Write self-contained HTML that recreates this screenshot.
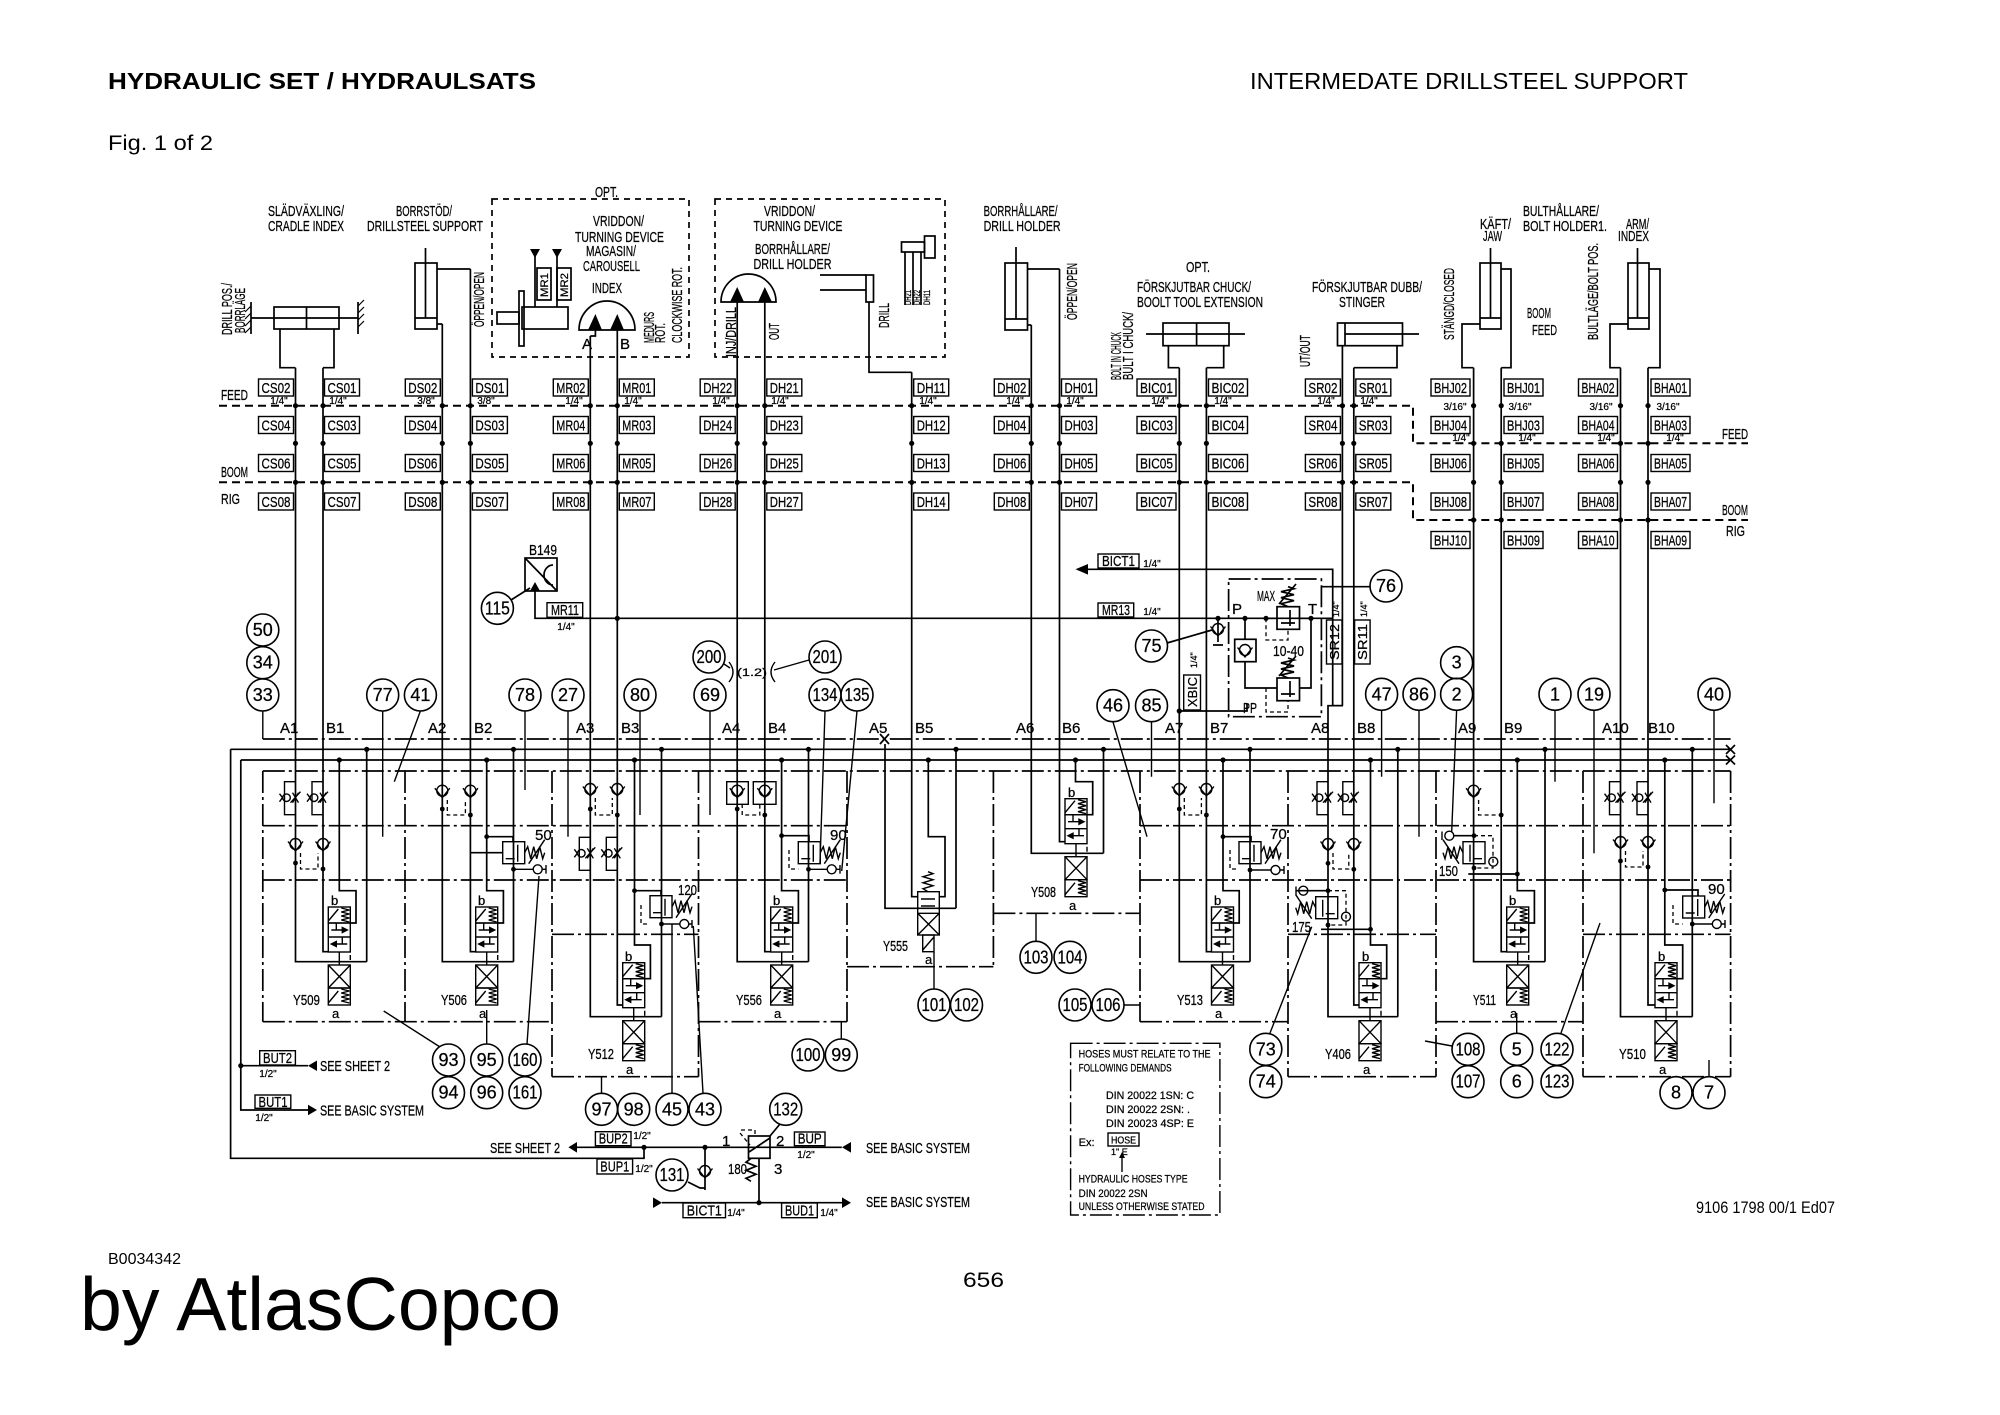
<!DOCTYPE html>
<html><head><meta charset="utf-8"><style>
html,body{margin:0;padding:0;background:#fff}
svg{display:block}
text{font-family:"Liberation Sans",sans-serif;fill:#000;stroke:none}
.n{font-size:15px;stroke:#000;stroke-width:0.3}
.c{font-size:18px;text-anchor:middle;stroke:#000;stroke-width:0.3}
.m{font-size:15px;text-anchor:middle;stroke:#000;stroke-width:0.3}
.sm{font-size:10px;text-anchor:middle;stroke:#000;stroke-width:0.2}
.d text{stroke:#000;stroke-width:0.25}
</style></head><body>
<svg width="2000" height="1415" viewBox="0 0 2000 1415" xmlns="http://www.w3.org/2000/svg">
<defs>
<g id="sp" fill="none" stroke="#000" stroke-width="1.4">
<rect x="0" y="7" width="22" height="16"/>
<path d="M0 21L10 9M13 8l8 2-8 2 8 2-8 2 8 2-8 2 8 2"/>
<rect x="0" y="23" width="22" height="29"/>
<path d="M0 37H22M3 30H17M5 44H19M11 52V65M22 55V60M8 23v7M14 37v7"/>
<path d="M19 30l-5-2.5v5zM3 44l5-2.5v5z" fill="#000"/>
<rect x="0" y="65" width="22" height="23"/>
<path d="M0 65L22 88M22 65L0 88"/>
<rect x="0" y="88" width="22" height="17"/>
<path d="M0 103L10 91M13 89l8 2-8 2 8 2-8 2 8 2-8 2 8 2"/>
</g>
<g id="ck" fill="none" stroke="#000" stroke-width="1.4"><circle cx="0" cy="-1" r="5.5"/><path d="M-7.5-3.5L0 6 7.5-3.5"/></g>
<g id="tc" fill="none" stroke="#000" stroke-width="1.4"><path d="M0-16H-11V17H0"/><circle cx="-9" cy="0" r="3.8"/><path d="M-13 0l-3-4M-13 0l-3 4M-3-5l6 10M3-5l-6 10M-5 5L5-6"/></g>
<g id="rv" fill="none" stroke="#000" stroke-width="1.4"><rect x="0" y="0" width="22" height="22"/><path d="M15 3V20M3 17H12M22 11l3-6 3 12 3-12 3 12 3-12 3 12 2-6M26 22L42-2"/></g>
</defs>
<rect width="2000" height="1415" fill="#fff"/>

<!-- header -->
<text x="108" y="89" style="font-size:23px;font-weight:bold" textLength="428" lengthAdjust="spacingAndGlyphs">HYDRAULIC SET / HYDRAULSATS</text>
<text x="1250" y="89" style="font-size:23px" textLength="438" lengthAdjust="spacingAndGlyphs">INTERMEDATE DRILLSTEEL SUPPORT</text>
<text x="108" y="150" style="font-size:21px" textLength="105" lengthAdjust="spacingAndGlyphs">Fig. 1 of 2</text>
<text x="108" y="1264" style="font-size:16px" textLength="73" lengthAdjust="spacingAndGlyphs">B0034342</text>
<text x="80" y="1330" style="font-size:75px" textLength="481" lengthAdjust="spacingAndGlyphs">by AtlasCopco</text>
<text x="963" y="1287" style="font-size:21px" textLength="41" lengthAdjust="spacingAndGlyphs">656</text>
<text x="1696" y="1213" style="font-size:17px" textLength="139" lengthAdjust="spacingAndGlyphs">9106 1798 00/1 Ed07</text>

<g fill="none" stroke="#000" stroke-width="1.7">
<!-- dashed opt boxes -->
<rect x="492" y="199" width="197" height="158" stroke-dasharray="6 5"/>
<rect x="715" y="199" width="230" height="158" stroke-dasharray="6 5"/>
<!-- cradle -->
<rect x="274" y="307" width="65" height="22"/>
<path d="M306.5 307V329M251 318H358M251 302V334M358 302V334M280 329V367.7H295.5M334 329V367.7H323"/>
<path d="M251 306l-6 6M251 313l-6 6M251 320l-6 6M251 327l-6 6M358 306l6-6M358 313l6-6M358 320l6-6M358 327l6-6" stroke-width="1.2"/>
<!-- drillsteel support -->
<rect x="415" y="263" width="22" height="66"/>
<path d="M425.5 248V318M415 318H437M437 269H470.4M437 324H442.3"/>
<!-- motor -->
<rect x="522" y="307" width="46" height="22"/><rect x="519" y="291" width="5" height="55"/><rect x="497" y="312" width="22" height="12"/>
<rect x="537" y="268" width="14" height="32"/><rect x="557" y="268" width="14" height="32"/>
<path d="M535 255V307M557 255V307"/>
<!-- index -->
<path d="M579 330A28 29 0 0 1 635 330Z"/>
<path d="M595.4 330V336H590.3"/>
<!-- turning device -->
<path d="M721 302A27.5 28 0 0 1 776 302Z"/>
<path d="M820 275H866M820 290H866"/><rect x="866" y="275" width="7.5" height="27"/>
<path d="M869 302V372.3H911.7"/>
<rect x="901.5" y="242" width="23" height="10"/><rect x="924.5" y="236" width="10.5" height="22"/>
<path d="M905 252V305M913 252V305M921 252V305"/>
<!-- drill holder -->
<rect x="1005" y="263" width="22.5" height="67"/>
<path d="M1016 247V319M1005 319H1027.5M1027.5 269H1059.5M1027.5 325H1031.3"/>
<!-- BIC -->
<rect x="1163" y="323" width="66" height="22.7"/>
<path d="M1196.6 323V345.7M1146 334H1245M1168.4 345.7V367.7H1179.3M1223.7 345.7V367.7H1206.4"/>
<!-- stinger -->
<rect x="1337.5" y="323" width="65" height="22.7"/>
<path d="M1345 323V345.7M1345 334H1419M1397 345.7V367.7H1353.8"/>
<!-- BHJ BHA -->
<rect x="1480" y="263" width="21" height="66"/>
<path d="M1490.5 248V318M1480 318H1501M1501 269H1511V367.7H1501.2M1480 324H1462V367.7H1473.6"/>
<rect x="1628" y="263" width="21" height="66"/>
<path d="M1637.5 248V318M1628 318H1649M1649 269H1660V367.7H1648M1628 324H1610V367.7H1620.5"/>

<!-- FEED/BOOM dashed -->
<path d="M219 405.7H1413V443.3H1748M219 482.3H1413V520H1748" stroke-width="2" stroke-dasharray="8 5"/>

<!-- pipes -->
<path d="M295.5 367.7V961.7H366.7M323 367.7V951.7H328.3M442.3 324V961.7H513.5M470.4 269V951.7H475.7M590.3 336V1016.7H661.5M617.3 330V1005H622.7M737.2 302V961.7H808.5M764.8 302V951.7H770.7M911.7 372.3V896.7H917.7M885 744V908.3H956M1031.3 325V853.3H1103.5M1059.5 269V841.7H1065M1179.3 367.7V961.7H1250M1206.4 367.7V951.7H1211.5M1342.4 345.7V705.7M1343 705.7H1328V1016.7H1397.8M1353.8 367.7V1005H1359M1473.6 367.7V961.7H1545M1501.2 367.7V951.7H1506.7M1620.5 367.7V1016.7H1692.3M1648 367.7V1005H1655"/>
<!-- T lines -->
<path d="M366.7 749.3V961.7M513.5 749.3V961.7M661.5 749.3V1016.7M808.5 749.3V961.7M956 749.3V908.3M1103.5 749.3V853.3M1250 749.3V961.7M1397.8 749.3V1016.7M1545 749.3V961.7M1692.3 749.3V1016.7"/>
<!-- P lines -->
<path d="M339.3 760V890.7H356V923H350.3M486.7 760V890.7H503.4V923H497.7M634.5 760V945H650.4V978.7H644.7M781.6 760V890.7H798.4V923H792.7M1075.5 760V781.7H1092.7V814.7H1087M1223 760V890.7H1239.2V923H1233.5M1370.5 760V945H1386.7V978.7H1381M1517.3 760V890.7H1534.4V923H1528.7M1664.8 760V945H1682.7V978.7H1677M928.3 760V836.7H945V896.7H939.3"/>

<!-- row boxes -->
<g stroke-width="1.4">
<rect x="258.5" y="379" width="35" height="17"/><rect x="324.5" y="379" width="35" height="17"/>
<rect x="258.5" y="416.5" width="35" height="17"/><rect x="324.5" y="416.5" width="35" height="17"/>
<rect x="258.5" y="454.5" width="35" height="17"/><rect x="324.5" y="454.5" width="35" height="17"/>
<rect x="258.5" y="493" width="35" height="17"/><rect x="324.5" y="493" width="35" height="17"/>
<rect x="405.3" y="379" width="35" height="17"/><rect x="472.4" y="379" width="35" height="17"/>
<rect x="405.3" y="416.5" width="35" height="17"/><rect x="472.4" y="416.5" width="35" height="17"/>
<rect x="405.3" y="454.5" width="35" height="17"/><rect x="472.4" y="454.5" width="35" height="17"/>
<rect x="405.3" y="493" width="35" height="17"/><rect x="472.4" y="493" width="35" height="17"/>
<rect x="553.3" y="379" width="35" height="17"/><rect x="619.3" y="379" width="35" height="17"/>
<rect x="553.3" y="416.5" width="35" height="17"/><rect x="619.3" y="416.5" width="35" height="17"/>
<rect x="553.3" y="454.5" width="35" height="17"/><rect x="619.3" y="454.5" width="35" height="17"/>
<rect x="553.3" y="493" width="35" height="17"/><rect x="619.3" y="493" width="35" height="17"/>
<rect x="700.2" y="379" width="35" height="17"/><rect x="766.8" y="379" width="35" height="17"/>
<rect x="700.2" y="416.5" width="35" height="17"/><rect x="766.8" y="416.5" width="35" height="17"/>
<rect x="700.2" y="454.5" width="35" height="17"/><rect x="766.8" y="454.5" width="35" height="17"/>
<rect x="700.2" y="493" width="35" height="17"/><rect x="766.8" y="493" width="35" height="17"/>
<rect x="913.7" y="379" width="35" height="17"/><rect x="913.7" y="416.5" width="35" height="17"/>
<rect x="913.7" y="454.5" width="35" height="17"/><rect x="913.7" y="493" width="35" height="17"/>
<rect x="994.3" y="379" width="35" height="17"/><rect x="1061.5" y="379" width="35" height="17"/>
<rect x="994.3" y="416.5" width="35" height="17"/><rect x="1061.5" y="416.5" width="35" height="17"/>
<rect x="994.3" y="454.5" width="35" height="17"/><rect x="1061.5" y="454.5" width="35" height="17"/>
<rect x="994.3" y="493" width="35" height="17"/><rect x="1061.5" y="493" width="35" height="17"/>
<rect x="1137" y="379" width="39" height="17"/><rect x="1208.5" y="379" width="39" height="17"/>
<rect x="1137" y="416.5" width="39" height="17"/><rect x="1208.5" y="416.5" width="39" height="17"/>
<rect x="1137" y="454.5" width="39" height="17"/><rect x="1208.5" y="454.5" width="39" height="17"/>
<rect x="1137" y="493" width="39" height="17"/><rect x="1208.5" y="493" width="39" height="17"/>
<rect x="1305.4" y="379" width="35" height="17"/><rect x="1355.8" y="379" width="35" height="17"/>
<rect x="1305.4" y="416.5" width="35" height="17"/><rect x="1355.8" y="416.5" width="35" height="17"/>
<rect x="1305.4" y="454.5" width="35" height="17"/><rect x="1355.8" y="454.5" width="35" height="17"/>
<rect x="1305.4" y="493" width="35" height="17"/><rect x="1355.8" y="493" width="35" height="17"/>
<rect x="1431" y="379" width="39" height="17"/><rect x="1504" y="379" width="39" height="17"/>
<rect x="1431" y="416.5" width="39" height="17"/><rect x="1504" y="416.5" width="39" height="17"/>
<rect x="1431" y="454.5" width="39" height="17"/><rect x="1504" y="454.5" width="39" height="17"/>
<rect x="1431" y="493" width="39" height="17"/><rect x="1504" y="493" width="39" height="17"/>
<rect x="1431" y="531.5" width="39" height="17"/><rect x="1504" y="531.5" width="39" height="17"/>
<rect x="1578.5" y="379" width="39" height="17"/><rect x="1651" y="379" width="39" height="17"/>
<rect x="1578.5" y="416.5" width="39" height="17"/><rect x="1651" y="416.5" width="39" height="17"/>
<rect x="1578.5" y="454.5" width="39" height="17"/><rect x="1651" y="454.5" width="39" height="17"/>
<rect x="1578.5" y="493" width="39" height="17"/><rect x="1651" y="493" width="39" height="17"/>
<rect x="1578.5" y="531.5" width="39" height="17"/><rect x="1651" y="531.5" width="39" height="17"/>
</g>

<!-- middle -->
<rect x="525" y="558" width="32" height="33"/>
<path d="M525 558L557 591M553 565A9 10 0 0 0 553 585M535 591V618.3H1332.7M511 600L530 588"/>
<rect x="547" y="602.7" width="35.7" height="14.6" stroke-width="1.4"/>
<rect x="1098" y="603" width="35.7" height="14" stroke-width="1.4"/>
<rect x="1098" y="554" width="41" height="14" stroke-width="1.4"/>
<path d="M1088 569.3H1332.7V705.7H1343"/>
<!-- pressure valve -->
<rect x="1228.6" y="579" width="92.8" height="137.7" stroke-dasharray="22 4 3 4"/>
<path d="M1218 618.3V642M1213 645H1223M1167 643L1212 630"/>
<rect x="1234.7" y="639.3" width="21.3" height="22.4"/>
<path d="M1245 618.3V639.3M1245 661.7V688H1277"/>
<rect x="1277" y="606.7" width="22.5" height="22.6"/>
<path d="M1266 618.3H1277M1299.5 618.3H1311V688H1299.5M1281 623H1295M1290 610V626M1288 606.7l-7-3 13-3-13-3 13-3-13-3 13-3-6-2M1279 604L1296 584"/>
<rect x="1277" y="678" width="22.5" height="22.7"/>
<path d="M1281 694H1295M1290 681V697M1288 678l-7-3 13-3-13-3 13-3-13-3 13-3-6-2M1279 676L1296 656"/>
<path d="M1266 618.3V640H1288V629.3M1266 688V712H1288V700.7" stroke-dasharray="4 3" stroke-width="1.3"/>
<path d="M1321.4 586.7H1370M1179.3 711H1247V704"/>
<rect x="1183.7" y="675" width="16.8" height="35" stroke-width="1.4"/>
<rect x="1326.5" y="620" width="15.5" height="44" stroke-width="1.4"/>
<rect x="1354.6" y="620" width="15.5" height="44" stroke-width="1.4"/>
<!-- brackets -->
<path d="M729 662Q737 672 729 682M775 662Q767 672 775 682M724 664L730 668M809 660L774 670" stroke-width="1.4"/>

<!-- bus -->
<path d="M262.8 739H1730.6" stroke-dasharray="22 4 3 4"/>
<path d="M230.6 749.3H1730.6M240.8 760H1730.6M230.6 749.3V1158.3H644V1147.3M240.8 760V1110H308M240.8 1065.7H308"/>
<path d="M880 734L889 744M889 734L880 744M1726 745l9 9M1735 745l-9 9M1726 755.5l9 9M1735 755.5l-9 9"/>
<g stroke-dasharray="22 4 3 4">
<path d="M262.8 771H1730.6M262.8 825.7H847M1140 825.7H1730.6M262.8 880H847M1140 880H1730.6M552 934.3H698.5M1288 934.3H1436M1583 934.3H1730.6"/>
<path d="M262.8 771V1021.7M405 771V1021.7M552 771V1076.7M698.5 771V1076.7M847 771V1021.7M993.4 771V966.7M1140 771V1021.7M1288 771V1076.7M1436 771V1076.7M1583 771V1076.7M1730.6 771V1076.7"/>
<path d="M262.8 1021.7H552M698.5 1021.7H847M1140 1021.7H1288M1436 1021.7H1583M552 1076.7H698.5M1288 1076.7H1436M1583 1076.7H1730.6M847 966.7H993.4M993.4 913.3H1140"/>
</g>

<!-- spools -->
<use href="#sp" x="328.3" y="900"/><use href="#sp" x="475.7" y="900"/><use href="#sp" x="622.7" y="955.7"/>
<use href="#sp" x="770.7" y="900"/><use href="#sp" x="1065" y="791.7"/><use href="#sp" x="1211.5" y="900"/>
<use href="#sp" x="1359" y="955.7"/><use href="#sp" x="1506.7" y="900"/><use href="#sp" x="1655" y="955.7"/>
<!-- Y555 -->
<g stroke-width="1.4">
<rect x="917.7" y="891.7" width="21.6" height="43.3"/>
<path d="M917.7 913.3H939.3M921 899H935M935 906H921M917.7 913.3L939.3 935M939.3 913.3L917.7 935M928 891.7l-5-3 10-3-10-3 10-3-10-3 10-3-5-2"/>
<rect x="922.7" y="935" width="11.3" height="16.7"/>
<path d="M922.7 950L934 937M934 952V988.7"/>
</g>

<!-- throttle checks -->
<use href="#tc" x="295.5" y="797.7"/><use href="#tc" x="323" y="797.7"/>
<use href="#tc" x="590.3" y="853.3"/><use href="#tc" x="617.3" y="853.3"/>
<use href="#tc" x="1328" y="797.7"/><use href="#tc" x="1353.8" y="797.7"/>
<use href="#tc" x="1620.5" y="797.7"/><use href="#tc" x="1648" y="797.7"/>
<!-- checks -->
<use href="#ck" x="295.5" y="845"/><use href="#ck" x="323" y="845"/>
<use href="#ck" x="442.3" y="791.7"/><use href="#ck" x="470.4" y="791.7"/>
<use href="#ck" x="590.3" y="790"/><use href="#ck" x="617.3" y="790"/>
<use href="#ck" x="737.2" y="791.7"/><use href="#ck" x="764.8" y="791.7"/>
<use href="#ck" x="1179.3" y="790"/><use href="#ck" x="1206.4" y="790"/>
<use href="#ck" x="1328" y="845"/><use href="#ck" x="1353.8" y="845"/>
<use href="#ck" x="1473.6" y="791.7"/>
<use href="#ck" x="1620.5" y="843"/><use href="#ck" x="1648" y="843"/>
<use href="#ck" x="1218" y="630"/><use href="#ck" x="1245" y="651"/>
<rect x="726.7" y="781.7" width="21.6" height="22.6" stroke-width="1.4"/><rect x="753.3" y="781.7" width="22.7" height="22.6" stroke-width="1.4"/>
<g stroke-dasharray="4 3" stroke-width="1.3">
<path d="M300.5 853V869H318V853M447.3 800V815H465.4V800M595.3 798V815H612.3V798M742.2 804V815H759.8V804M1184.3 798V815H1201.4V798M1333 853V869H1348.8V853M1478.6 800V815H1501.2M1625.5 851V867H1643V851"/>
<path d="M1328 890.7H1346V925H1328M1474 835.7H1493V868H1474M641 905V924H650M789 850V869H798.3M1230 850V869H1239M1673 905V924H1682.7"/>
</g>
<!-- relief valves -->
<use href="#rv" x="502.7" y="841.7"/><use href="#rv" x="650" y="895.7"/><use href="#rv" x="798.3" y="841.7"/>
<use href="#rv" x="1239" y="841.7"/><use href="#rv" x="1682.7" y="896"/>
<use href="#rv" transform="translate(1337.7 896.7) scale(-1 1)"/>
<use href="#rv" transform="translate(1485 841.7) scale(-1 1)"/>
<path d="M486.7 836.7H513V841.7M470.4 852.7H502.7M634.5 890.7H661V895.7M781.6 835.7H809V841.7M1223 836.7H1251V841.7M1664.8 890H1698V896M1321 929.3H1370.5M1468.3 874H1517.3M1327 890.7H1296M1474 835.7H1454"/>
<g stroke-width="1.4">
<circle cx="537.7" cy="869.3" r="4.5"/><path d="M513.5 869.3H533.2M542.2 869.3H546M546 865V873.6"/>
<circle cx="684.3" cy="924" r="4.5"/><path d="M661.5 924H679.8M688.8 924H692M692 920V928"/>
<circle cx="831.7" cy="869.3" r="4.5"/><path d="M808.5 869.3H827.2M836.2 869.3H840M840 865V873.6"/>
<circle cx="1275.5" cy="870" r="4.5"/><path d="M1250 870H1271M1280 870H1284M1284 866V874"/>
<circle cx="1716.8" cy="924" r="4.5"/><path d="M1692.3 924H1712.3M1721.3 924H1725M1725 920V928"/>
<circle cx="1303.3" cy="890.7" r="4.5"/><path d="M1296 886.5V895"/>
<circle cx="1346" cy="916.7" r="4.5"/>
<circle cx="1449.3" cy="835.7" r="4.5"/><path d="M1442 831.5V840"/>
<circle cx="1493.3" cy="861.7" r="4.5"/>
</g>

<!-- leaders -->
<path d="M262.8 711V739M382.7 711V836.7M420.4 711L394.3 781.7M525 711V790M568 711V836.7M640 711V815M710 711V815M825 711L820 863M857 711L841.7 871M1113 722L1147 836.7M1151.5 722V776.7M1381.6 710.3V776.7M1419 710.3V836.7M1456.6 710.3L1451.7 831.7M1555 710.3V781.7M1594 710.3V853.3M1714 710.3V803.3" stroke-width="1.4"/>
<path d="M440 1047L383.7 1011M486.7 1044V1010M527 1044L539 876M601.5 1093V1076.7M672 1093V924M703 1093L693.3 926M841.3 1039V1021.7M1036 941V913.3M1124 1005H1140M1270 1033L1311.7 926.7M1452 1046L1425 1041M1516.7 1033V1013M1561 1033L1600 923M1709 1060V1076.7" stroke-width="1.4"/>

<!-- circles -->
<g stroke-width="1.6">
<circle cx="262.8" cy="630" r="16"/><circle cx="262.8" cy="662.7" r="16"/><circle cx="262.8" cy="695" r="16"/>
<circle cx="382.7" cy="695" r="16"/><circle cx="420.4" cy="695" r="16"/><circle cx="525" cy="695" r="16"/>
<circle cx="568" cy="695" r="16"/><circle cx="640" cy="695" r="16"/><circle cx="710" cy="695" r="16"/>
<circle cx="825" cy="695" r="16"/><circle cx="857" cy="695" r="16"/><circle cx="709" cy="657" r="16"/>
<circle cx="825" cy="657" r="16"/><circle cx="497.4" cy="608.3" r="16"/><circle cx="1113" cy="705.7" r="16"/>
<circle cx="1151.5" cy="705.7" r="16"/><circle cx="1151.5" cy="646" r="16"/><circle cx="1386" cy="586" r="16"/>
<circle cx="1381.6" cy="694.3" r="16"/><circle cx="1419" cy="694.3" r="16"/><circle cx="1456.6" cy="694.3" r="16"/>
<circle cx="1456.6" cy="662.7" r="16"/><circle cx="1555" cy="694.3" r="16"/><circle cx="1594" cy="694.3" r="16"/>
<circle cx="1714" cy="694.3" r="16"/>
<circle cx="448.5" cy="1060" r="16"/><circle cx="448.5" cy="1092.7" r="16"/><circle cx="486.7" cy="1060" r="16"/>
<circle cx="486.7" cy="1092.7" r="16"/><circle cx="525" cy="1060" r="16"/><circle cx="525" cy="1092.7" r="16"/>
<circle cx="601.5" cy="1109.3" r="16"/><circle cx="633.7" cy="1109.3" r="16"/><circle cx="672" cy="1109.3" r="16"/>
<circle cx="705" cy="1109.3" r="16"/><circle cx="808" cy="1055" r="16"/><circle cx="841.3" cy="1055" r="16"/>
<circle cx="934" cy="1005" r="16"/><circle cx="966.5" cy="1005" r="16"/><circle cx="1036" cy="957.3" r="16"/>
<circle cx="1070" cy="957.3" r="16"/><circle cx="1075" cy="1005" r="16"/><circle cx="1108" cy="1005" r="16"/>
<circle cx="1265.8" cy="1049.3" r="16"/><circle cx="1265.8" cy="1081.7" r="16"/><circle cx="1468" cy="1049.3" r="16"/>
<circle cx="1468" cy="1081.7" r="16"/><circle cx="1516.7" cy="1049.3" r="16"/><circle cx="1516.7" cy="1081.7" r="16"/>
<circle cx="1557" cy="1049.3" r="16"/><circle cx="1557" cy="1081.7" r="16"/><circle cx="1676" cy="1092.7" r="16"/>
<circle cx="1709" cy="1092.7" r="16"/><circle cx="672" cy="1175" r="16"/><circle cx="785.7" cy="1109.3" r="16"/>
</g>

<!-- bottom left -->
<rect x="259.7" y="1050.7" width="35.7" height="14.3" stroke-width="1.4"/>
<rect x="255" y="1095" width="35.8" height="13.3" stroke-width="1.4"/>
<path d="M577 1147.3H841.8M705 1147.3V1190M688 1182L700 1188H705M780 1124L770 1136M759 1158.3V1202.7M662 1202.7H842M751 1158.3l-5 4 10 4-10 4 10 4-10 4 5 3M749 1152L770 1138"/>
<path d="M741 1130H755V1136M740 1133L750 1145" stroke-dasharray="4 3" stroke-width="1.3"/>
<rect x="748.5" y="1136" width="21.5" height="22.3"/>
<use href="#ck" x="705" y="1172"/>
<g stroke-width="1.4">
<rect x="595.4" y="1131.7" width="35.6" height="14"/><rect x="597" y="1159" width="35.6" height="15"/>
<rect x="794.4" y="1132" width="30.6" height="13.7"/>
<rect x="683" y="1203" width="42.5" height="14.7"/><rect x="781.6" y="1203" width="35.7" height="14.7"/>
<rect x="1070.6" y="1043.3" width="149.3" height="171.7" stroke-dasharray="22 4 3 4"/>
<rect x="1108" y="1133" width="31" height="13"/>
<path d="M1122 1172V1156"/>
</g>
</g>

<!-- filled shapes -->
<g fill="#000" stroke="none">
<polygon points="530,249 540,249 535,258"/><polygon points="552,249 562,249 557,258"/>
<polygon points="588,330 602,330 595.4,314"/><polygon points="610,330 624,330 617.3,314"/>
<polygon points="730,302 744,302 737.2,287"/><polygon points="758,302 772,302 764.8,287"/>
<polygon points="530,591 540,591 535,582"/>
<polygon points="1075.5,569.3 1088,564 1088,574.6"/>
<polygon points="308,1065.7 317,1060.5 317,1071"/>
<polygon points="317,1110 308,1104.7 308,1115.3"/>
<polygon points="568.4,1147.3 577,1142 577,1152.6"/>
<polygon points="842,1147.3 851,1142 851,1152.6"/>
<polygon points="653,1197.4 662,1202.7 653,1208"/>
<polygon points="842,1197.4 851,1202.7 842,1208"/>
<polygon points="1122,1152 1119,1158 1125,1158"/>
<!-- dots -->
<circle cx="295.5" cy="405.7" r="2.6"/><circle cx="323" cy="405.7" r="2.6"/><circle cx="442.3" cy="405.7" r="2.6"/><circle cx="470.4" cy="405.7" r="2.6"/>
<circle cx="590.3" cy="405.7" r="2.6"/><circle cx="617.3" cy="405.7" r="2.6"/><circle cx="737.2" cy="405.7" r="2.6"/><circle cx="764.8" cy="405.7" r="2.6"/>
<circle cx="911.7" cy="405.7" r="2.6"/><circle cx="1031.3" cy="405.7" r="2.6"/><circle cx="1059.5" cy="405.7" r="2.6"/><circle cx="1179.3" cy="405.7" r="2.6"/>
<circle cx="1206.4" cy="405.7" r="2.6"/><circle cx="1342.4" cy="405.7" r="2.6"/><circle cx="1353.8" cy="405.7" r="2.6"/><circle cx="1473.6" cy="405.7" r="2.6"/>
<circle cx="1501.2" cy="405.7" r="2.6"/><circle cx="1620.5" cy="405.7" r="2.6"/><circle cx="1648" cy="405.7" r="2.6"/>
<circle cx="295.5" cy="443.3" r="2.6"/><circle cx="323" cy="443.3" r="2.6"/><circle cx="442.3" cy="443.3" r="2.6"/><circle cx="470.4" cy="443.3" r="2.6"/>
<circle cx="590.3" cy="443.3" r="2.6"/><circle cx="617.3" cy="443.3" r="2.6"/><circle cx="737.2" cy="443.3" r="2.6"/><circle cx="764.8" cy="443.3" r="2.6"/>
<circle cx="911.7" cy="443.3" r="2.6"/><circle cx="1031.3" cy="443.3" r="2.6"/><circle cx="1059.5" cy="443.3" r="2.6"/><circle cx="1179.3" cy="443.3" r="2.6"/>
<circle cx="1206.4" cy="443.3" r="2.6"/><circle cx="1342.4" cy="443.3" r="2.6"/><circle cx="1353.8" cy="443.3" r="2.6"/><circle cx="1473.6" cy="443.3" r="2.6"/>
<circle cx="1501.2" cy="443.3" r="2.6"/><circle cx="1620.5" cy="443.3" r="2.6"/><circle cx="1648" cy="443.3" r="2.6"/>
<circle cx="295.5" cy="482.3" r="2.6"/><circle cx="323" cy="482.3" r="2.6"/><circle cx="442.3" cy="482.3" r="2.6"/><circle cx="470.4" cy="482.3" r="2.6"/>
<circle cx="590.3" cy="482.3" r="2.6"/><circle cx="617.3" cy="482.3" r="2.6"/><circle cx="737.2" cy="482.3" r="2.6"/><circle cx="764.8" cy="482.3" r="2.6"/>
<circle cx="911.7" cy="482.3" r="2.6"/><circle cx="1031.3" cy="482.3" r="2.6"/><circle cx="1059.5" cy="482.3" r="2.6"/><circle cx="1179.3" cy="482.3" r="2.6"/>
<circle cx="1206.4" cy="482.3" r="2.6"/><circle cx="1342.4" cy="482.3" r="2.6"/><circle cx="1353.8" cy="482.3" r="2.6"/><circle cx="1473.6" cy="482.3" r="2.6"/>
<circle cx="1501.2" cy="482.3" r="2.6"/><circle cx="1620.5" cy="482.3" r="2.6"/><circle cx="1648" cy="482.3" r="2.6"/>
<circle cx="1473.6" cy="520" r="2.6"/><circle cx="1501.2" cy="520" r="2.6"/><circle cx="1620.5" cy="520" r="2.6"/><circle cx="1648" cy="520" r="2.6"/>
<circle cx="366.7" cy="749.3" r="2.6"/><circle cx="513.5" cy="749.3" r="2.6"/><circle cx="661.5" cy="749.3" r="2.6"/><circle cx="808.5" cy="749.3" r="2.6"/>
<circle cx="956" cy="749.3" r="2.6"/><circle cx="1103.5" cy="749.3" r="2.6"/><circle cx="1250" cy="749.3" r="2.6"/><circle cx="1397.8" cy="749.3" r="2.6"/>
<circle cx="1545" cy="749.3" r="2.6"/><circle cx="1692.3" cy="749.3" r="2.6"/>
<circle cx="339.3" cy="760" r="2.6"/><circle cx="486.7" cy="760" r="2.6"/><circle cx="634.5" cy="760" r="2.6"/><circle cx="781.6" cy="760" r="2.6"/>
<circle cx="928.3" cy="760" r="2.6"/><circle cx="1075.5" cy="760" r="2.6"/><circle cx="1223" cy="760" r="2.6"/><circle cx="1370.5" cy="760" r="2.6"/>
<circle cx="1517.3" cy="760" r="2.6"/><circle cx="1664.8" cy="760" r="2.6"/>
<circle cx="617.3" cy="618.3" r="2.6"/><circle cx="1218" cy="618.3" r="2.6"/><circle cx="1245" cy="618.3" r="2.6"/><circle cx="1266" cy="618.3" r="2.6"/>
<circle cx="1311" cy="618.3" r="2.6"/><circle cx="1179.3" cy="711" r="2.6"/><circle cx="705" cy="1147.3" r="2.6"/><circle cx="644" cy="1147.3" r="2.6"/>
<circle cx="759" cy="1202.7" r="2.6"/><circle cx="240.8" cy="1065.7" r="2.6"/>
<circle cx="295.5" cy="863" r="2.4"/><circle cx="323" cy="869" r="2.4"/><circle cx="442.3" cy="809" r="2.4"/><circle cx="470.4" cy="815" r="2.4"/>
<circle cx="590.3" cy="809" r="2.4"/><circle cx="617.3" cy="815" r="2.4"/><circle cx="737.2" cy="809" r="2.4"/><circle cx="764.8" cy="815" r="2.4"/>
<circle cx="1179.3" cy="809" r="2.4"/><circle cx="1206.4" cy="815" r="2.4"/><circle cx="1328" cy="863.3" r="2.4"/><circle cx="1353.8" cy="869.3" r="2.4"/>
<circle cx="1501.2" cy="815" r="2.4"/><circle cx="1620.5" cy="861" r="2.4"/><circle cx="1648" cy="867" r="2.4"/>
<circle cx="513.5" cy="869.3" r="2.4"/><circle cx="661.5" cy="924" r="2.4"/><circle cx="808.5" cy="869.3" r="2.4"/><circle cx="1250" cy="870" r="2.4"/>
<circle cx="1692.3" cy="924" r="2.4"/><circle cx="1328" cy="890.7" r="2.4"/><circle cx="1328" cy="925" r="2.4"/><circle cx="1370.5" cy="929.3" r="2.4"/>
<circle cx="1474" cy="835.7" r="2.4"/><circle cx="1474" cy="868" r="2.4"/><circle cx="1517.3" cy="874" r="2.4"/>
<circle cx="486.7" cy="836.7" r="2.4"/><circle cx="634.5" cy="890.7" r="2.4"/><circle cx="781.6" cy="835.7" r="2.4"/><circle cx="1223" cy="836.7" r="2.4"/><circle cx="1664.8" cy="890" r="2.4"/>
</g>

<!-- TEXT -->
<g class="d">
<text class="n" x="268" y="216" textLength="76" lengthAdjust="spacingAndGlyphs">SLÄDVÄXLING/</text>
<text class="n" x="268" y="231" textLength="76" lengthAdjust="spacingAndGlyphs">CRADLE INDEX</text>
<text class="n" x="396" y="216" textLength="56" lengthAdjust="spacingAndGlyphs">BORRSTÖD/</text>
<text class="n" x="367" y="231" textLength="116" lengthAdjust="spacingAndGlyphs">DRILLSTEEL SUPPORT</text>
<text class="n" x="595" y="197" textLength="23" lengthAdjust="spacingAndGlyphs">OPT.</text>
<text class="n" x="593" y="226" textLength="51" lengthAdjust="spacingAndGlyphs">VRIDDON/</text>
<text class="n" x="575" y="242" textLength="89" lengthAdjust="spacingAndGlyphs">TURNING DEVICE</text>
<text class="n" x="586" y="256" textLength="50" lengthAdjust="spacingAndGlyphs">MAGASIN/</text>
<text class="n" x="583" y="271" textLength="57" lengthAdjust="spacingAndGlyphs">CAROUSELL</text>
<text class="n" x="592" y="293" textLength="30" lengthAdjust="spacingAndGlyphs">INDEX</text>
<text class="n" x="582" y="349">A</text><text class="n" x="620" y="349">B</text>
<text class="n" transform="translate(654 343) rotate(-90)" textLength="31" lengthAdjust="spacingAndGlyphs">MEDURS</text>
<text class="n" transform="translate(665 343) rotate(-90)" textLength="20" lengthAdjust="spacingAndGlyphs">ROT.</text>
<text class="n" transform="translate(682 343) rotate(-90)" textLength="76" lengthAdjust="spacingAndGlyphs">CLOCKWISE ROT.</text>
<text style="font-size:11px" transform="translate(548 297) rotate(-90)" textLength="24" lengthAdjust="spacingAndGlyphs">MR1</text>
<text style="font-size:11px" transform="translate(568 297) rotate(-90)" textLength="24" lengthAdjust="spacingAndGlyphs">MR2</text>
<text class="n" x="764" y="216" textLength="51" lengthAdjust="spacingAndGlyphs">VRIDDON/</text>
<text class="n" x="753.5" y="231" textLength="89" lengthAdjust="spacingAndGlyphs">TURNING DEVICE</text>
<text class="n" x="755" y="254" textLength="75" lengthAdjust="spacingAndGlyphs">BORRHÅLLARE/</text>
<text class="n" x="753.5" y="269" textLength="78" lengthAdjust="spacingAndGlyphs">DRILL HOLDER</text>
<text class="n" transform="translate(736 357) rotate(-90)" textLength="50" lengthAdjust="spacingAndGlyphs">INJ/DRILL</text>
<text class="n" transform="translate(779 340) rotate(-90)" textLength="17" lengthAdjust="spacingAndGlyphs">OUT</text>
<text class="n" transform="translate(889 328) rotate(-90)" textLength="25" lengthAdjust="spacingAndGlyphs">DRILL</text>
<text style="font-size:9px" transform="translate(911 305) rotate(-90)" textLength="15" lengthAdjust="spacingAndGlyphs">DH21</text>
<text style="font-size:9px" transform="translate(920 305) rotate(-90)" textLength="15" lengthAdjust="spacingAndGlyphs">DH22</text>
<text style="font-size:9px" transform="translate(930 305) rotate(-90)" textLength="15" lengthAdjust="spacingAndGlyphs">DH11</text>
<text class="n" transform="translate(232 335) rotate(-90)" textLength="52" lengthAdjust="spacingAndGlyphs">DRILL POS./</text>
<text class="n" transform="translate(245 333) rotate(-90)" textLength="45" lengthAdjust="spacingAndGlyphs">BORRLÄGE</text>
<text class="n" transform="translate(484 327) rotate(-90)" textLength="55" lengthAdjust="spacingAndGlyphs">ÖPPEN/OPEN</text>
<text class="n" x="983.6" y="216" textLength="74" lengthAdjust="spacingAndGlyphs">BORRHÅLLARE/</text>
<text class="n" x="983.6" y="231" textLength="77" lengthAdjust="spacingAndGlyphs">DRILL HOLDER</text>
<text class="n" transform="translate(1077 320) rotate(-90)" textLength="57" lengthAdjust="spacingAndGlyphs">ÖPPEN/OPEN</text>
<text class="n" x="1186" y="272" textLength="24" lengthAdjust="spacingAndGlyphs">OPT.</text>
<text class="n" x="1137" y="292" textLength="114" lengthAdjust="spacingAndGlyphs">FÖRSKJUTBAR CHUCK/</text>
<text class="n" x="1137" y="307" textLength="126" lengthAdjust="spacingAndGlyphs">BOOLT TOOL EXTENSION</text>
<text class="n" transform="translate(1121 380) rotate(-90)" textLength="48" lengthAdjust="spacingAndGlyphs">BOLT IN CHUCK</text>
<text class="n" transform="translate(1133 380) rotate(-90)" textLength="68" lengthAdjust="spacingAndGlyphs">BULT I CHUCK/</text>
<text class="n" x="1312" y="292" textLength="110" lengthAdjust="spacingAndGlyphs">FÖRSKJUTBAR DUBB/</text>
<text class="n" x="1339" y="307" textLength="46" lengthAdjust="spacingAndGlyphs">STINGER</text>
<text class="n" transform="translate(1310 367) rotate(-90)" textLength="32" lengthAdjust="spacingAndGlyphs">UT/OUT</text>
<text class="n" transform="translate(1454 340) rotate(-90)" textLength="72" lengthAdjust="spacingAndGlyphs">STÄNGD/CLOSED</text>
<text class="n" x="1480" y="229" textLength="31" lengthAdjust="spacingAndGlyphs">KÄFT/</text>
<text class="n" x="1483" y="241" textLength="19" lengthAdjust="spacingAndGlyphs">JAW</text>
<text class="n" x="1523" y="216" textLength="76" lengthAdjust="spacingAndGlyphs">BULTHÅLLARE/</text>
<text class="n" x="1523" y="231" textLength="84" lengthAdjust="spacingAndGlyphs">BOLT HOLDER1.</text>
<text class="n" x="1626" y="229" textLength="23" lengthAdjust="spacingAndGlyphs">ARM/</text>
<text class="n" x="1618" y="241" textLength="31" lengthAdjust="spacingAndGlyphs">INDEX</text>
<text class="n" x="1527" y="318" textLength="24" lengthAdjust="spacingAndGlyphs">BOOM</text>
<text class="n" x="1532" y="335" textLength="25" lengthAdjust="spacingAndGlyphs">FEED</text>
<text class="n" transform="translate(1598 340) rotate(-90)" textLength="97" lengthAdjust="spacingAndGlyphs">BULTLÄGE/BOLT POS.</text>

<text class="n" x="221" y="400" textLength="27" lengthAdjust="spacingAndGlyphs">FEED</text>
<text class="n" x="221" y="477" textLength="27" lengthAdjust="spacingAndGlyphs">BOOM</text>
<text class="n" x="221" y="504" textLength="19" lengthAdjust="spacingAndGlyphs">RIG</text>
<text class="n" x="1722" y="439" textLength="26" lengthAdjust="spacingAndGlyphs">FEED</text>
<text class="n" x="1722" y="515" textLength="26" lengthAdjust="spacingAndGlyphs">BOOM</text>
<text class="n" x="1726" y="536" textLength="19" lengthAdjust="spacingAndGlyphs">RIG</text>

<!-- box labels -->
<text class="m" x="276" y="393" textLength="29" lengthAdjust="spacingAndGlyphs">CS02</text><text class="m" x="342" y="393" textLength="29" lengthAdjust="spacingAndGlyphs">CS01</text>
<text class="m" x="276" y="430.5" textLength="29" lengthAdjust="spacingAndGlyphs">CS04</text><text class="m" x="342" y="430.5" textLength="29" lengthAdjust="spacingAndGlyphs">CS03</text>
<text class="m" x="276" y="468.5" textLength="29" lengthAdjust="spacingAndGlyphs">CS06</text><text class="m" x="342" y="468.5" textLength="29" lengthAdjust="spacingAndGlyphs">CS05</text>
<text class="m" x="276" y="507" textLength="29" lengthAdjust="spacingAndGlyphs">CS08</text><text class="m" x="342" y="507" textLength="29" lengthAdjust="spacingAndGlyphs">CS07</text>
<text class="m" x="422.8" y="393" textLength="29" lengthAdjust="spacingAndGlyphs">DS02</text><text class="m" x="489.9" y="393" textLength="29" lengthAdjust="spacingAndGlyphs">DS01</text>
<text class="m" x="422.8" y="430.5" textLength="29" lengthAdjust="spacingAndGlyphs">DS04</text><text class="m" x="489.9" y="430.5" textLength="29" lengthAdjust="spacingAndGlyphs">DS03</text>
<text class="m" x="422.8" y="468.5" textLength="29" lengthAdjust="spacingAndGlyphs">DS06</text><text class="m" x="489.9" y="468.5" textLength="29" lengthAdjust="spacingAndGlyphs">DS05</text>
<text class="m" x="422.8" y="507" textLength="29" lengthAdjust="spacingAndGlyphs">DS08</text><text class="m" x="489.9" y="507" textLength="29" lengthAdjust="spacingAndGlyphs">DS07</text>
<text class="m" x="570.8" y="393" textLength="29" lengthAdjust="spacingAndGlyphs">MR02</text><text class="m" x="636.8" y="393" textLength="29" lengthAdjust="spacingAndGlyphs">MR01</text>
<text class="m" x="570.8" y="430.5" textLength="29" lengthAdjust="spacingAndGlyphs">MR04</text><text class="m" x="636.8" y="430.5" textLength="29" lengthAdjust="spacingAndGlyphs">MR03</text>
<text class="m" x="570.8" y="468.5" textLength="29" lengthAdjust="spacingAndGlyphs">MR06</text><text class="m" x="636.8" y="468.5" textLength="29" lengthAdjust="spacingAndGlyphs">MR05</text>
<text class="m" x="570.8" y="507" textLength="29" lengthAdjust="spacingAndGlyphs">MR08</text><text class="m" x="636.8" y="507" textLength="29" lengthAdjust="spacingAndGlyphs">MR07</text>
<text class="m" x="717.7" y="393" textLength="29" lengthAdjust="spacingAndGlyphs">DH22</text><text class="m" x="784.3" y="393" textLength="29" lengthAdjust="spacingAndGlyphs">DH21</text>
<text class="m" x="717.7" y="430.5" textLength="29" lengthAdjust="spacingAndGlyphs">DH24</text><text class="m" x="784.3" y="430.5" textLength="29" lengthAdjust="spacingAndGlyphs">DH23</text>
<text class="m" x="717.7" y="468.5" textLength="29" lengthAdjust="spacingAndGlyphs">DH26</text><text class="m" x="784.3" y="468.5" textLength="29" lengthAdjust="spacingAndGlyphs">DH25</text>
<text class="m" x="717.7" y="507" textLength="29" lengthAdjust="spacingAndGlyphs">DH28</text><text class="m" x="784.3" y="507" textLength="29" lengthAdjust="spacingAndGlyphs">DH27</text>
<text class="m" x="931.2" y="393" textLength="29" lengthAdjust="spacingAndGlyphs">DH11</text><text class="m" x="931.2" y="430.5" textLength="29" lengthAdjust="spacingAndGlyphs">DH12</text>
<text class="m" x="931.2" y="468.5" textLength="29" lengthAdjust="spacingAndGlyphs">DH13</text><text class="m" x="931.2" y="507" textLength="29" lengthAdjust="spacingAndGlyphs">DH14</text>
<text class="m" x="1011.8" y="393" textLength="29" lengthAdjust="spacingAndGlyphs">DH02</text><text class="m" x="1079" y="393" textLength="29" lengthAdjust="spacingAndGlyphs">DH01</text>
<text class="m" x="1011.8" y="430.5" textLength="29" lengthAdjust="spacingAndGlyphs">DH04</text><text class="m" x="1079" y="430.5" textLength="29" lengthAdjust="spacingAndGlyphs">DH03</text>
<text class="m" x="1011.8" y="468.5" textLength="29" lengthAdjust="spacingAndGlyphs">DH06</text><text class="m" x="1079" y="468.5" textLength="29" lengthAdjust="spacingAndGlyphs">DH05</text>
<text class="m" x="1011.8" y="507" textLength="29" lengthAdjust="spacingAndGlyphs">DH08</text><text class="m" x="1079" y="507" textLength="29" lengthAdjust="spacingAndGlyphs">DH07</text>
<text class="m" x="1156.5" y="393" textLength="33" lengthAdjust="spacingAndGlyphs">BIC01</text><text class="m" x="1228" y="393" textLength="33" lengthAdjust="spacingAndGlyphs">BIC02</text>
<text class="m" x="1156.5" y="430.5" textLength="33" lengthAdjust="spacingAndGlyphs">BIC03</text><text class="m" x="1228" y="430.5" textLength="33" lengthAdjust="spacingAndGlyphs">BIC04</text>
<text class="m" x="1156.5" y="468.5" textLength="33" lengthAdjust="spacingAndGlyphs">BIC05</text><text class="m" x="1228" y="468.5" textLength="33" lengthAdjust="spacingAndGlyphs">BIC06</text>
<text class="m" x="1156.5" y="507" textLength="33" lengthAdjust="spacingAndGlyphs">BIC07</text><text class="m" x="1228" y="507" textLength="33" lengthAdjust="spacingAndGlyphs">BIC08</text>
<text class="m" x="1322.9" y="393" textLength="29" lengthAdjust="spacingAndGlyphs">SR02</text><text class="m" x="1373.3" y="393" textLength="29" lengthAdjust="spacingAndGlyphs">SR01</text>
<text class="m" x="1322.9" y="430.5" textLength="29" lengthAdjust="spacingAndGlyphs">SR04</text><text class="m" x="1373.3" y="430.5" textLength="29" lengthAdjust="spacingAndGlyphs">SR03</text>
<text class="m" x="1322.9" y="468.5" textLength="29" lengthAdjust="spacingAndGlyphs">SR06</text><text class="m" x="1373.3" y="468.5" textLength="29" lengthAdjust="spacingAndGlyphs">SR05</text>
<text class="m" x="1322.9" y="507" textLength="29" lengthAdjust="spacingAndGlyphs">SR08</text><text class="m" x="1373.3" y="507" textLength="29" lengthAdjust="spacingAndGlyphs">SR07</text>
<text class="m" x="1450.5" y="393" textLength="33" lengthAdjust="spacingAndGlyphs">BHJ02</text><text class="m" x="1523.5" y="393" textLength="33" lengthAdjust="spacingAndGlyphs">BHJ01</text>
<text class="m" x="1450.5" y="430.5" textLength="33" lengthAdjust="spacingAndGlyphs">BHJ04</text><text class="m" x="1523.5" y="430.5" textLength="33" lengthAdjust="spacingAndGlyphs">BHJ03</text>
<text class="m" x="1450.5" y="468.5" textLength="33" lengthAdjust="spacingAndGlyphs">BHJ06</text><text class="m" x="1523.5" y="468.5" textLength="33" lengthAdjust="spacingAndGlyphs">BHJ05</text>
<text class="m" x="1450.5" y="507" textLength="33" lengthAdjust="spacingAndGlyphs">BHJ08</text><text class="m" x="1523.5" y="507" textLength="33" lengthAdjust="spacingAndGlyphs">BHJ07</text>
<text class="m" x="1450.5" y="545.5" textLength="33" lengthAdjust="spacingAndGlyphs">BHJ10</text><text class="m" x="1523.5" y="545.5" textLength="33" lengthAdjust="spacingAndGlyphs">BHJ09</text>
<text class="m" x="1598" y="393" textLength="33" lengthAdjust="spacingAndGlyphs">BHA02</text><text class="m" x="1670.5" y="393" textLength="33" lengthAdjust="spacingAndGlyphs">BHA01</text>
<text class="m" x="1598" y="430.5" textLength="33" lengthAdjust="spacingAndGlyphs">BHA04</text><text class="m" x="1670.5" y="430.5" textLength="33" lengthAdjust="spacingAndGlyphs">BHA03</text>
<text class="m" x="1598" y="468.5" textLength="33" lengthAdjust="spacingAndGlyphs">BHA06</text><text class="m" x="1670.5" y="468.5" textLength="33" lengthAdjust="spacingAndGlyphs">BHA05</text>
<text class="m" x="1598" y="507" textLength="33" lengthAdjust="spacingAndGlyphs">BHA08</text><text class="m" x="1670.5" y="507" textLength="33" lengthAdjust="spacingAndGlyphs">BHA07</text>
<text class="m" x="1598" y="545.5" textLength="33" lengthAdjust="spacingAndGlyphs">BHA10</text><text class="m" x="1670.5" y="545.5" textLength="33" lengthAdjust="spacingAndGlyphs">BHA09</text>

<!-- size marks -->
<text class="sm" x="279" y="404">1/4"</text><text class="sm" x="338" y="404">1/4"</text>
<text class="sm" x="426" y="404">3/8"</text><text class="sm" x="486" y="404">3/8"</text>
<text class="sm" x="574" y="404">1/4"</text><text class="sm" x="633" y="404">1/4"</text>
<text class="sm" x="721" y="404">1/4"</text><text class="sm" x="780" y="404">1/4"</text>
<text class="sm" x="928" y="404">1/4"</text>
<text class="sm" x="1015" y="404">1/4"</text><text class="sm" x="1075" y="404">1/4"</text>
<text class="sm" x="1160" y="404">1/4"</text><text class="sm" x="1223" y="404">1/4"</text>
<text class="sm" x="1326" y="404">1/4"</text><text class="sm" x="1369" y="404">1/4"</text>
<text class="sm" x="1455" y="410">3/16"</text><text class="sm" x="1520" y="410">3/16"</text>
<text class="sm" x="1601" y="410">3/16"</text><text class="sm" x="1668" y="410">3/16"</text>
<text class="sm" x="1461" y="441">1/4"</text><text class="sm" x="1527" y="441">1/4"</text>
<text class="sm" x="1606" y="441">1/4"</text><text class="sm" x="1675" y="441">1/4"</text>

<!-- middle labels -->
<text class="n" x="529" y="555" textLength="28" lengthAdjust="spacingAndGlyphs">B149</text>
<text class="m" x="565" y="615" textLength="28" lengthAdjust="spacingAndGlyphs">MR11</text>
<text class="sm" x="566" y="630">1/4"</text>
<text class="m" x="1116" y="615" textLength="28" lengthAdjust="spacingAndGlyphs">MR13</text>
<text class="sm" x="1152" y="615">1/4"</text>
<text class="m" x="1118.5" y="566" textLength="33" lengthAdjust="spacingAndGlyphs">BICT1</text>
<text class="sm" x="1152" y="567">1/4"</text>
<text class="n" x="1257" y="601" textLength="18" lengthAdjust="spacingAndGlyphs">MAX</text>
<text class="n" x="1232" y="614">P</text><text class="n" x="1308" y="614">T</text>
<text class="n" x="1273" y="656" textLength="31" lengthAdjust="spacingAndGlyphs">10-40</text>
<text class="n" x="1243" y="713" textLength="14" lengthAdjust="spacingAndGlyphs">PP</text>
<text style="font-size:13px" transform="translate(1197 707) rotate(-90)" textLength="30" lengthAdjust="spacingAndGlyphs">XBIC</text>
<text style="font-size:9px" transform="translate(1197 668) rotate(-90)">1/4"</text>
<text style="font-size:13px" transform="translate(1339 660) rotate(-90)" textLength="36" lengthAdjust="spacingAndGlyphs">SR12</text>
<text style="font-size:9px" transform="translate(1339 617) rotate(-90)">1/4"</text>
<text style="font-size:13px" transform="translate(1367 660) rotate(-90)" textLength="36" lengthAdjust="spacingAndGlyphs">SR11</text>
<text style="font-size:9px" transform="translate(1367 617) rotate(-90)">1/4"</text>
<text style="font-size:11px" x="737" y="676" textLength="30" lengthAdjust="spacingAndGlyphs">(1.2)</text>

<!-- A/B labels -->
<text class="n" x="280" y="733">A1</text><text class="n" x="326" y="733">B1</text>
<text class="n" x="428" y="733">A2</text><text class="n" x="474" y="733">B2</text>
<text class="n" x="576" y="733">A3</text><text class="n" x="621" y="733">B3</text>
<text class="n" x="722" y="733">A4</text><text class="n" x="768" y="733">B4</text>
<text class="n" x="869" y="733">A5</text><text class="n" x="915" y="733">B5</text>
<text class="n" x="1016" y="733">A6</text><text class="n" x="1062" y="733">B6</text>
<text class="n" x="1165" y="733">A7</text><text class="n" x="1210" y="733">B7</text>
<text class="n" x="1311" y="733">A8</text><text class="n" x="1357" y="733">B8</text>
<text class="n" x="1458" y="733">A9</text><text class="n" x="1504" y="733">B9</text>
<text class="n" x="1602" y="733">A10</text><text class="n" x="1648" y="733">B10</text>

<!-- spool labels -->
<text style="font-size:13px" x="331" y="905">b</text><text style="font-size:13px" x="332" y="1018">a</text>
<text style="font-size:13px" x="478" y="905">b</text><text style="font-size:13px" x="479" y="1018">a</text>
<text style="font-size:13px" x="625" y="961">b</text><text style="font-size:13px" x="626" y="1074">a</text>
<text style="font-size:13px" x="773" y="905">b</text><text style="font-size:13px" x="774" y="1018">a</text>
<text style="font-size:13px" x="1068" y="797">b</text><text style="font-size:13px" x="1069" y="910">a</text>
<text style="font-size:13px" x="1214" y="905">b</text><text style="font-size:13px" x="1215" y="1018">a</text>
<text style="font-size:13px" x="1362" y="961">b</text><text style="font-size:13px" x="1363" y="1074">a</text>
<text style="font-size:13px" x="1509" y="905">b</text><text style="font-size:13px" x="1510" y="1018">a</text>
<text style="font-size:13px" x="1658" y="961">b</text><text style="font-size:13px" x="1659" y="1074">a</text>
<text style="font-size:13px" x="925" y="964">a</text>
<text class="n" x="293" y="1005" textLength="27" lengthAdjust="spacingAndGlyphs">Y509</text>
<text class="n" x="441" y="1005" textLength="26" lengthAdjust="spacingAndGlyphs">Y506</text>
<text class="n" x="588" y="1059" textLength="26" lengthAdjust="spacingAndGlyphs">Y512</text>
<text class="n" x="736" y="1005" textLength="26" lengthAdjust="spacingAndGlyphs">Y556</text>
<text class="n" x="883" y="951" textLength="25" lengthAdjust="spacingAndGlyphs">Y555</text>
<text class="n" x="1031" y="897" textLength="25" lengthAdjust="spacingAndGlyphs">Y508</text>
<text class="n" x="1177" y="1005" textLength="26" lengthAdjust="spacingAndGlyphs">Y513</text>
<text class="n" x="1325" y="1059" textLength="26" lengthAdjust="spacingAndGlyphs">Y406</text>
<text class="n" x="1473" y="1005" textLength="23" lengthAdjust="spacingAndGlyphs">Y511</text>
<text class="n" x="1619" y="1059" textLength="27" lengthAdjust="spacingAndGlyphs">Y510</text>
<text class="n" x="535" y="840">50</text><text class="n" x="678" y="895" textLength="19" lengthAdjust="spacingAndGlyphs">120</text>
<text class="n" x="830" y="840">90</text><text class="n" x="1270" y="839">70</text>
<text class="n" x="1292" y="932" textLength="19" lengthAdjust="spacingAndGlyphs">175</text>
<text class="n" x="1439" y="876" textLength="19" lengthAdjust="spacingAndGlyphs">150</text>
<text class="n" x="1708" y="894">90</text>

<!-- circle numbers -->
<text class="c" x="262.8" y="636">50</text><text class="c" x="262.8" y="668.7">34</text><text class="c" x="262.8" y="701">33</text>
<text class="c" x="382.7" y="701">77</text><text class="c" x="420.4" y="701">41</text><text class="c" x="525" y="701">78</text>
<text class="c" x="568" y="701">27</text><text class="c" x="640" y="701">80</text><text class="c" x="710" y="701">69</text>
<text class="c" x="825" y="701" textLength="25" lengthAdjust="spacingAndGlyphs">134</text><text class="c" x="857" y="701" textLength="25" lengthAdjust="spacingAndGlyphs">135</text>
<text class="c" x="709" y="663" textLength="25" lengthAdjust="spacingAndGlyphs">200</text><text class="c" x="825" y="663" textLength="25" lengthAdjust="spacingAndGlyphs">201</text>
<text class="c" x="497.4" y="614.3" textLength="25" lengthAdjust="spacingAndGlyphs">115</text>
<text class="c" x="1113" y="711.7">46</text><text class="c" x="1151.5" y="711.7">85</text><text class="c" x="1151.5" y="652">75</text>
<text class="c" x="1386" y="592">76</text><text class="c" x="1381.6" y="700.3">47</text><text class="c" x="1419" y="700.3">86</text>
<text class="c" x="1456.6" y="700.3">2</text><text class="c" x="1456.6" y="668.7">3</text><text class="c" x="1555" y="700.3">1</text>
<text class="c" x="1594" y="700.3">19</text><text class="c" x="1714" y="700.3">40</text>
<text class="c" x="448.5" y="1066">93</text><text class="c" x="448.5" y="1098.7">94</text><text class="c" x="486.7" y="1066">95</text>
<text class="c" x="486.7" y="1098.7">96</text><text class="c" x="525" y="1066" textLength="25" lengthAdjust="spacingAndGlyphs">160</text><text class="c" x="525" y="1098.7" textLength="25" lengthAdjust="spacingAndGlyphs">161</text>
<text class="c" x="601.5" y="1115.3">97</text><text class="c" x="633.7" y="1115.3">98</text><text class="c" x="672" y="1115.3">45</text>
<text class="c" x="705" y="1115.3">43</text><text class="c" x="808" y="1061" textLength="25" lengthAdjust="spacingAndGlyphs">100</text><text class="c" x="841.3" y="1061">99</text>
<text class="c" x="934" y="1011" textLength="25" lengthAdjust="spacingAndGlyphs">101</text><text class="c" x="966.5" y="1011" textLength="25" lengthAdjust="spacingAndGlyphs">102</text>
<text class="c" x="1036" y="963.3" textLength="25" lengthAdjust="spacingAndGlyphs">103</text><text class="c" x="1070" y="963.3" textLength="25" lengthAdjust="spacingAndGlyphs">104</text>
<text class="c" x="1075" y="1011" textLength="25" lengthAdjust="spacingAndGlyphs">105</text><text class="c" x="1108" y="1011" textLength="25" lengthAdjust="spacingAndGlyphs">106</text>
<text class="c" x="1265.8" y="1055.3">73</text><text class="c" x="1265.8" y="1087.7">74</text>
<text class="c" x="1468" y="1055.3" textLength="25" lengthAdjust="spacingAndGlyphs">108</text><text class="c" x="1468" y="1087.7" textLength="25" lengthAdjust="spacingAndGlyphs">107</text>
<text class="c" x="1516.7" y="1055.3">5</text><text class="c" x="1516.7" y="1087.7">6</text>
<text class="c" x="1557" y="1055.3" textLength="25" lengthAdjust="spacingAndGlyphs">122</text><text class="c" x="1557" y="1087.7" textLength="25" lengthAdjust="spacingAndGlyphs">123</text>
<text class="c" x="1676" y="1098.7">8</text><text class="c" x="1709" y="1098.7">7</text>
<text class="c" x="672" y="1181" textLength="25" lengthAdjust="spacingAndGlyphs">131</text>
<text class="c" x="785.7" y="1115.3" textLength="25" lengthAdjust="spacingAndGlyphs">132</text>

<!-- bottom left labels -->
<text class="m" x="277.5" y="1063" textLength="29" lengthAdjust="spacingAndGlyphs">BUT2</text>
<text class="sm" x="268" y="1077">1/2"</text>
<text class="n" x="320" y="1071" textLength="70" lengthAdjust="spacingAndGlyphs">SEE SHEET 2</text>
<text class="m" x="273" y="1107" textLength="29" lengthAdjust="spacingAndGlyphs">BUT1</text>
<text class="sm" x="264" y="1121">1/2"</text>
<text class="n" x="320" y="1115.5" textLength="104" lengthAdjust="spacingAndGlyphs">SEE BASIC SYSTEM</text>
<text class="n" x="490" y="1153" textLength="70" lengthAdjust="spacingAndGlyphs">SEE SHEET 2</text>
<text class="m" x="613.2" y="1143.5" textLength="29" lengthAdjust="spacingAndGlyphs">BUP2</text>
<text class="sm" x="642" y="1139">1/2"</text>
<text class="m" x="614.8" y="1171.5" textLength="29" lengthAdjust="spacingAndGlyphs">BUP1</text>
<text class="sm" x="644" y="1172">1/2"</text>
<text class="n" x="722" y="1146">1</text><text class="n" x="776" y="1146">2</text>
<text class="n" x="728" y="1174" textLength="19" lengthAdjust="spacingAndGlyphs">180</text><text class="n" x="774" y="1174">3</text>
<text class="m" x="809.7" y="1143.5" textLength="24" lengthAdjust="spacingAndGlyphs">BUP</text>
<text class="sm" x="806" y="1158">1/2"</text>
<text class="n" x="866" y="1153" textLength="104" lengthAdjust="spacingAndGlyphs">SEE BASIC SYSTEM</text>
<text class="m" x="704.3" y="1215.5" textLength="35" lengthAdjust="spacingAndGlyphs">BICT1</text>
<text class="sm" x="736" y="1216">1/4"</text>
<text class="m" x="799.5" y="1215.5" textLength="29" lengthAdjust="spacingAndGlyphs">BUD1</text>
<text class="sm" x="829" y="1216">1/4"</text>
<text class="n" x="866" y="1207" textLength="104" lengthAdjust="spacingAndGlyphs">SEE BASIC SYSTEM</text>

<!-- legend -->
<text style="font-size:11px" x="1078.6" y="1057.5" textLength="132" lengthAdjust="spacingAndGlyphs">HOSES MUST RELATE TO THE</text>
<text style="font-size:11px" x="1078.6" y="1071.5" textLength="93" lengthAdjust="spacingAndGlyphs">FOLLOWING DEMANDS</text>
<text style="font-size:11px" x="1106" y="1099" textLength="88" lengthAdjust="spacingAndGlyphs">DIN 20022 1SN: C</text>
<text style="font-size:11px" x="1106" y="1113" textLength="84" lengthAdjust="spacingAndGlyphs">DIN 20022 2SN: .</text>
<text style="font-size:11px" x="1106" y="1127" textLength="88" lengthAdjust="spacingAndGlyphs">DIN 20023 4SP: E</text>
<text style="font-size:11px" x="1078.6" y="1146" textLength="16" lengthAdjust="spacingAndGlyphs">Ex:</text>
<text style="font-size:10px" x="1111" y="1143.5" textLength="25" lengthAdjust="spacingAndGlyphs">HOSE</text>
<text style="font-size:9px" x="1111" y="1155">1" E</text>
<text style="font-size:11px" x="1078.6" y="1182.5" textLength="109" lengthAdjust="spacingAndGlyphs">HYDRAULIC HOSES TYPE</text>
<text style="font-size:11px" x="1078.6" y="1197" textLength="69" lengthAdjust="spacingAndGlyphs">DIN 20022 2SN</text>
<text style="font-size:11px" x="1078.6" y="1210" textLength="126" lengthAdjust="spacingAndGlyphs">UNLESS OTHERWISE STATED</text>
</g>
</svg>
</body></html>
